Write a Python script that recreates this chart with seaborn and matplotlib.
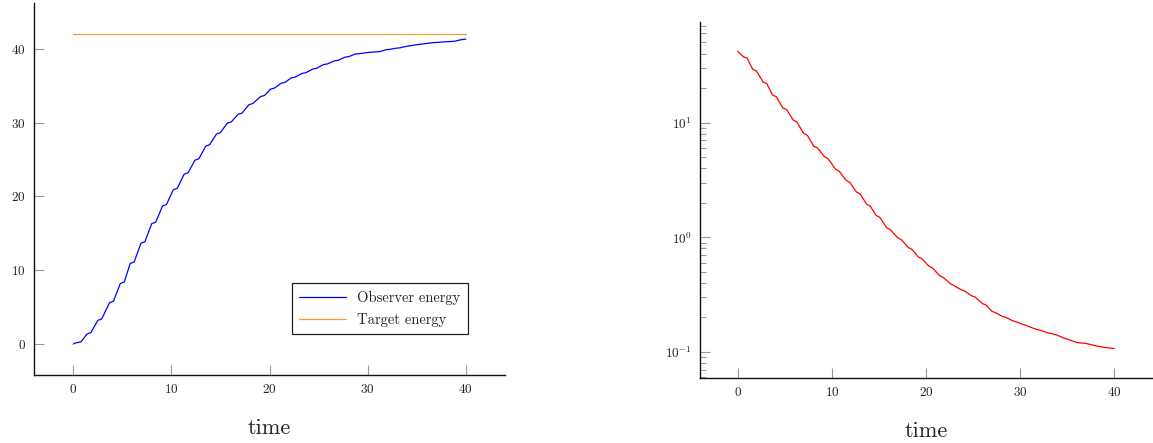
import numpy as np
import pandas as pd
import matplotlib
matplotlib.use("Agg")
import matplotlib.pyplot as plt
import matplotlib.ticker as mticker
import seaborn as sns

# ---------------- data ----------------
obs_time = [0.0, 0.25, 0.8, 1.4, 1.8, 2.5, 2.9, 3.7, 4.1, 4.8, 5.2, 5.8, 6.2,
            6.9, 7.3, 8.0, 8.4, 9.1, 9.5, 10.2, 10.6, 11.3, 11.7, 12.4, 12.8,
            13.5, 13.9, 14.6, 15.0, 15.7, 16.1, 16.8, 17.2, 17.9, 18.3, 19.1,
            19.5, 20.1, 20.5, 21.2, 21.6, 22.2, 22.6, 23.3, 23.7, 24.4, 24.8,
            25.5, 25.9, 26.6, 27.0, 27.7, 28.1, 28.7, 29.1, 29.9, 30.3, 30.9,
            31.3, 31.9, 32.3, 32.9, 33.3, 34.1, 34.5, 35.1, 35.5, 36.3, 36.7,
            37.3, 37.7, 38.5, 38.9, 39.5, 40.0]
obs_energy = [0.0, 0.15, 0.3, 1.35, 1.55, 3.2, 3.4, 5.6, 5.8, 8.2, 8.4, 10.9,
              11.1, 13.65, 13.85, 16.3, 16.5, 18.7, 18.9, 20.9, 21.1, 23.0,
              23.2, 24.9, 25.1, 26.8, 27.0, 28.45, 28.65, 29.92, 30.08, 31.12,
              31.28, 32.42, 32.58, 33.53, 33.67, 34.53, 34.67, 35.34, 35.46,
              36.05, 36.15, 36.65, 36.75, 37.25, 37.35, 37.86, 37.94, 38.36,
              38.44, 38.86, 38.94, 39.27, 39.33, 39.47, 39.53, 39.58, 39.64,
              39.87, 39.93, 40.07, 40.13, 40.37, 40.43, 40.57, 40.63, 40.77,
              40.83, 40.88, 40.93, 40.98, 41.03, 41.22, 41.3]

target_time = [0.0, 40.0]
target_energy = [42.0, 42.0]

err_time = [0.0, 0.6, 1.0, 1.6, 2.0, 2.7, 3.1, 3.7, 4.1, 4.8, 5.2, 5.9, 6.3,
            7.0, 7.4, 8.1, 8.5, 9.2, 9.6, 10.4, 10.8, 11.5, 11.9, 12.6, 13.0,
            13.7, 14.1, 14.7, 15.1, 15.8, 16.2, 17.0, 17.4, 18.1, 18.5, 19.2,
            19.6, 20.3, 20.7, 21.4, 21.8, 22.6, 23.0, 23.7, 24.1, 24.8, 25.2,
            26.0, 26.4, 27.0, 27.4, 28.1, 28.5, 29.2, 29.6, 30.2, 30.6, 31.3,
            31.7, 32.5, 32.9, 33.5, 33.9, 34.6, 35.0, 35.7, 36.1, 36.9, 37.3,
            37.9, 38.3, 39.0, 39.4, 40.0]
err_value = [41.9, 37.5, 36.5, 29.1, 28.1, 22.6, 21.8, 17.4, 16.8, 13.4, 13.0,
             10.5, 10.1, 8.05, 7.75, 6.2, 6.0, 5.05, 4.85, 3.92, 3.76, 3.14,
             3.02, 2.49, 2.39, 1.94, 1.86, 1.55, 1.49, 1.215, 1.165, 0.99,
             0.95, 0.815, 0.785, 0.673, 0.647, 0.561, 0.539, 0.466, 0.448,
             0.394, 0.378, 0.350, 0.340, 0.310, 0.302, 0.264, 0.256, 0.226,
             0.220, 0.204, 0.200, 0.187, 0.183, 0.175, 0.171, 0.162, 0.158,
             0.151, 0.147, 0.1435, 0.1405, 0.1325, 0.1295, 0.1235, 0.1205,
             0.1190, 0.1170, 0.1140, 0.1120, 0.1095, 0.1085, 0.107]

x_ticks = [0, 10, 20, 30, 40]
left_y_ticks = [0, 10, 20, 30, 40]
x_label = "time"
legend_labels = ["Observer energy", "Target energy"]

# ---------------- style ----------------
sns.set_style("ticks")
plt.rcParams["font.family"] = ["cmr10", "DejaVu Serif"]
plt.rcParams["mathtext.fontset"] = "cm"
plt.rcParams["axes.formatter.use_mathtext"] = True
plt.rcParams["axes.unicode_minus"] = False

fig = plt.figure(figsize=(11.53, 4.43), dpi=100)
ax1 = fig.add_axes([34 / 1153, 68 / 443, 471 / 1153, 372 / 443])
ax2 = fig.add_axes([700 / 1153, 65 / 443, 452 / 1153, 356 / 443])

obs_df = pd.DataFrame({"t": obs_time, "v": obs_energy})
tgt_df = pd.DataFrame({"t": target_time, "v": target_energy})
err_df = pd.DataFrame({"t": err_time, "v": err_value})

sns.lineplot(data=obs_df, x="t", y="v", ax=ax1, color="#0000ff",
             linewidth=0.9, label=legend_labels[0])
sns.lineplot(data=tgt_df, x="t", y="v", ax=ax1, color="#ff9933",
             linewidth=0.9, label=legend_labels[1])
sns.lineplot(data=err_df, x="t", y="v", ax=ax2, color="#ff0000",
             linewidth=0.9, legend=False)

ax1.set_xlim(-4, 44)
ax1.set_ylim(-4.2, 46.2)
ax1.set_xticks(x_ticks)
ax1.set_yticks(left_y_ticks)

ax2.set_yscale("log")
ax2.set_xlim(-4, 44)
ax2.set_ylim(0.0593, 75.3)
ax2.set_xticks(x_ticks)
ax2.yaxis.set_major_locator(mticker.LogLocator(base=10, numticks=10))
ax2.yaxis.set_minor_locator(mticker.LogLocator(base=10, subs=np.arange(2, 10), numticks=10))
ax2.yaxis.set_minor_formatter(mticker.NullFormatter())

for ax in (ax1, ax2):
    sns.despine(ax=ax)
    for s in ("left", "bottom"):
        ax.spines[s].set_color("#111111")
        ax.spines[s].set_linewidth(1.0)
    ax.tick_params(axis="both", which="major", direction="in", length=7,
                   width=0.8, color="#999999", labelsize=9.5,
                   labelcolor="#222222")
    ax.tick_params(axis="both", which="minor", direction="in", length=4,
                   width=0.8, color="#999999")
    ax.tick_params(axis="x", pad=6)
    ax.tick_params(axis="y", pad=6)
    ax.set_xlabel(x_label, fontsize=16, labelpad=16)
    ax.set_ylabel("")

leg = ax1.legend(loc="lower right", bbox_to_anchor=(0.921, 0.110),
                 borderaxespad=0, fontsize=10.5, frameon=True, fancybox=False,
                 framealpha=1, edgecolor="#222222", handlelength=3.2,
                 handletextpad=0.8, labelspacing=0.55, borderpad=0.5)
leg.get_frame().set_linewidth(0.9)

fig.savefig("out.png", dpi=100)
